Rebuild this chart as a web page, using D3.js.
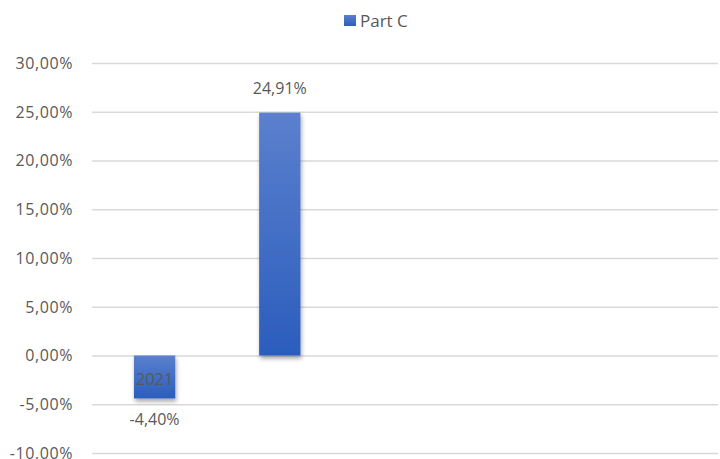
<!DOCTYPE html>
<html><head><meta charset="utf-8">
<script src="https://cdn.jsdelivr.net/npm/d3@7"></script>
<style>body{margin:0;background:#fff}svg{display:block}</style>
</head><body>
<svg id="c" width="720" height="459"></svg>
<script>
const categories = ["2021", "", "", "", ""];
const values = [-4.40, 24.91, null, null, null];
const seriesName = "Part C";
const yTicks = [-10, -5, 0, 5, 10, 15, 20, 25, 30];

const svg = d3.select("#c");
const font = "'Open Sans', sans-serif";
const textColor = "#595959";
const m = {left: 92, right: 2, top: 63, bottom: 6};
const W = 720, H = 459;

const x = d3.scaleBand().domain(d3.range(categories.length)).range([m.left, W - m.right]).paddingInner(0.67).paddingOuter(0.335);
const y = d3.scaleLinear().domain([-10, 30]).range([453, 63]);
const fmt = v => v.toFixed(2).replace(".", ",") + "%";

const defs = svg.append("defs");
const g = defs.append("linearGradient").attr("id", "bg").attr("x1", 0).attr("y1", 0).attr("x2", 0).attr("y2", 1);
g.append("stop").attr("offset", "0%").attr("stop-color", "#5b80cd");
g.append("stop").attr("offset", "100%").attr("stop-color", "#2b5dbd");
const f = defs.append("filter").attr("id", "sh").attr("x", "-30%").attr("y", "-30%").attr("width", "160%").attr("height", "160%");
f.append("feDropShadow").attr("dx", 1).attr("dy", 3).attr("stdDeviation", 2).attr("flood-color", "#000").attr("flood-opacity", 0.35);

// gridlines + y labels
const yAxis = d3.axisLeft(y).tickValues(yTicks).tickSize(-(W - m.right - m.left)).tickFormat(fmt).tickPadding(19);
const ya = svg.append("g").attr("transform", `translate(${m.left},0)`).call(yAxis);
ya.select(".domain").remove();
ya.selectAll(".tick line").attr("stroke", "#d9d9d9").attr("stroke-width", 1.3);
ya.selectAll(".tick text").attr("fill", textColor).attr("font-family", font).attr("font-size", "16px").attr("letter-spacing", "0.6px").attr("dy", "0.34em");

// bars
const data = values.map((v, i) => ({i, v})).filter(d => d.v !== null);
svg.append("g").selectAll("rect").data(data).join("rect")
  .attr("x", d => x(d.i)).attr("width", x.bandwidth())
  .attr("y", d => y(Math.max(0, d.v))).attr("height", d => Math.abs(y(d.v) - y(0)))
  .attr("fill", "url(#bg)").attr("filter", "url(#sh)");

// category labels (at zero line)
const xAxis = d3.axisBottom(x).tickFormat(i => categories[i]).tickSize(0).tickPadding(18);
const xa = svg.append("g").attr("transform", `translate(0,${y(0)})`).call(xAxis);
xa.select(".domain").remove();
xa.selectAll(".tick text").attr("fill", textColor).attr("font-family", font).attr("font-size", "16.5px");

// data labels
svg.append("g").selectAll("text").data(data).join("text")
  .attr("x", d => x(d.i) + x.bandwidth() / 2)
  .attr("y", d => d.v >= 0 ? y(d.v) - 19 : y(d.v) + 27)
  .attr("text-anchor", "middle").attr("fill", textColor)
  .attr("font-family", font).attr("font-size", "16px")
  .text(d => fmt(d.v));

// legend
const lg = svg.append("g").attr("transform", "translate(344,15)");
lg.append("rect").attr("width", 12).attr("height", 11).attr("fill", "url(#bg)");
lg.append("text").attr("x", 16).attr("y", 11.5).attr("fill", textColor).attr("font-family", font).attr("font-size", "17px").text(seriesName);
</script>
</body></html>
